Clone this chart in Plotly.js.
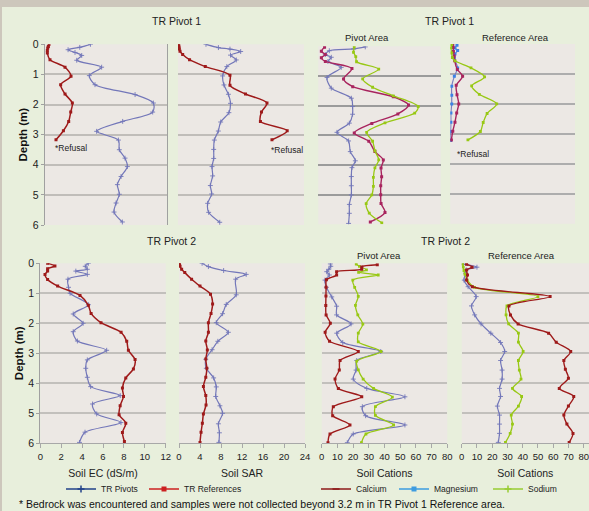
<!DOCTYPE html>
<html>
<head>
<meta charset="utf-8">
<script src="https://cdn.plot.ly/plotly-3.0.1.min.js"></script>
<style>
html,body{margin:0;padding:0;background:#e8efdc;}
#wrap{position:relative;width:589px;height:511px;overflow:hidden;}
#chart{position:absolute;left:0;top:0;width:589px;height:511px;}
#topband{position:absolute;left:0;top:0;width:589px;height:7px;background:#cdc7bc;z-index:5;}
#leftband{position:absolute;left:0;top:0;width:2px;height:511px;background:#cdc7bc;z-index:5;}
</style>
</head>
<body>
<div id="wrap"><div id="chart"></div><div id="topband"></div><div id="leftband"></div></div>
<script>
// ---------- DATA (depth in m) ----------
// TR Pivot 1 - Soil EC (dS/m)
const p1ecPivDepth = [0, 0.1, 0.18, 0.27, 0.37, 0.53, 0.76, 1.04, 1.34, 1.67, 1.95, 2.25, 2.56, 2.89, 3.18, 3.5, 3.78, 4.06, 4.39, 4.66, 4.98, 5.27, 5.57, 5.9];
const p1ecPiv      = [4.5, 3.45, 2.3, 2.98, 3.64, 3.15, 5.6, 4.39, 4.95, 8.89, 10.69, 10.62, 7.67, 5.11, 7.25, 7.34, 7.9, 8.13, 7.51, 7.15, 7.34, 7.02, 6.82, 7.64];
const p1ecRefDepth = [0, 0.07, 0.12, 0.21, 0.29, 0.51, 0.76, 1.06, 1.34, 1.65, 1.95, 2.25, 2.56, 2.87, 3.17];
const p1ecRef      = [0.43, 0.36, 0.3, 0.26, 0.26, 0.52, 2.0, 2.59, 1.57, 2.0, 2.72, 2.56, 2.36, 1.84, 1.11];
// TR Pivot 1 - Soil SAR
const p1sarPivDepth = [0, 0.11, 0.16, 0.24, 0.36, 0.52, 0.74, 1.05, 1.35, 1.66, 1.96, 2.27, 2.58, 2.88, 3.18, 3.49, 3.79, 4.06, 4.37, 4.69, 4.97, 5.28, 5.58, 5.91];
const p1sarPiv      = [5.33, 7.7, 9.9, 11.94, 10.0, 11.1, 9.3, 8.5, 8.76, 9.6, 10.0, 9.7, 8.13, 7.68, 6.92, 6.8, 6.8, 6.48, 6.6, 6.16, 6.41, 5.65, 5.84, 7.95];
const p1sarRefDepth = [0, 0.06, 0.1, 0.16, 0.23, 0.34, 0.51, 0.74, 1.03, 1.36, 1.65, 1.95, 2.25, 2.56, 2.87, 3.17];
const p1sarRef      = [0.13, 0.13, 0.19, 0.25, 0.38, 0.89, 2.2, 5.2, 9.9, 9.9, 12.85, 16.95, 15.9, 15.7, 20.8, 17.9];
// TR Pivot 1 - Cations, Pivot Area
const p1pvCaDepth = [0.03, 0.17, 0.28, 0.39, 0.51, 0.75, 1.1, 1.36, 1.7, 1.98, 2.28, 2.6, 2.92, 3.2, 3.55, 3.83, 4.1, 4.4, 4.7, 5.0, 5.3, 5.6, 5.92];
const p1pvCa      = [4.1, 2, 4.6, 2, 4.6, 22, 16.5, 22.5, 49, 59, 52, 35, 23.5, 33, 37, 42.5, 41, 41.4, 40.8, 40.8, 41, 43.6, 34];
const p1pvMgDepth = [0.02, 0.09, 0.15, 0.28, 0.37, 0.51, 0.71, 1.05, 1.41, 1.75, 2.03, 2.29, 2.59, 2.9, 3.19, 3.55, 3.86, 4.09, 4.39, 4.7, 5.01, 5.33, 5.63, 5.97];
const p1pvMg      = [30.7, 23.1, 7.2, 4.6, 8.5, 6.3, 15, 5.7, 8.5, 21.6, 22.4, 22.4, 20.3, 12.2, 19.8, 20.9, 24.2, 22, 21.6, 21.6, 21.6, 20.3, 20.3, 19.8];
const p1pvNaDepth = [0.03, 0.2, 0.35, 0.52, 0.77, 1.1, 1.38, 1.67, 2.03, 2.25, 2.58, 2.9, 3.2, 3.52, 3.83, 4.1, 4.42, 4.72, 5.01, 5.3, 5.62, 5.95];
const p1pvNa      = [23.5, 23, 24.5, 25, 39.5, 29, 35.5, 49, 65.3, 63, 43.6, 31.6, 35.5, 37, 39.5, 37, 36, 36, 35, 31.3, 33.3, 41.5];
// TR Pivot 1 - Cations, Reference Area
const p1rfCaDepth = [0.02, 0.12, 0.25, 0.4, 0.56, 0.85, 1.08, 1.38, 1.69, 2.0, 2.3, 2.61, 2.91, 3.2];
const p1rfCa      = [1.6, 1.8, 2, 2.5, 2.8, 4.5, 7.9, 3.8, 4.3, 5.4, 4.1, 3, 1.6, 0.7];
const p1rfMgDepth = [0.04, 0.13, 0.22, 0.33, 0.47, 0.8, 1.08, 1.41, 1.71, 2.0, 2.3, 2.61, 2.92, 3.22];
const p1rfMg      = [4.3, 3, 4.7, 3, 2.6, 4.7, 2.6, 0.9, 0.9, 0.9, 0.4, 0.4, 0.2, 0.2];
const p1rfNaDepth = [0.02, 0.13, 0.3, 0.45, 0.56, 0.8, 1.1, 1.4, 1.68, 2.0, 2.32, 2.62, 2.92, 3.2];
const p1rfNa      = [0.9, 0.4, 0.9, 1.3, 3, 13.3, 22, 13.7, 18.6, 29.8, 23.6, 21.1, 19.3, 11.3];
// TR Pivot 2 - Soil EC (dS/m)
const p2ecPivDepth = [0, 0.1, 0.2, 0.26, 0.37, 0.53, 0.8, 1.0, 1.38, 1.69, 2.0, 2.28, 2.59, 2.9, 3.22, 3.5, 3.8, 4.11, 4.41, 4.69, 5.02, 5.31, 5.63, 5.97];
const p2ecPiv      = [4.6, 4.3, 4.5, 3.4, 4.5, 2.65, 2.7, 2.85, 4.6, 3.15, 4.1, 3.15, 3.55, 6.35, 4.5, 4.35, 4.5, 4.82, 7.65, 5.0, 5.4, 7.72, 4.28, 3.75];
const p2ecRefDepth = [0, 0.09, 0.18, 0.26, 0.37, 0.54, 0.76, 1.07, 1.4, 1.67, 1.98, 2.3, 2.6, 2.9, 3.21, 3.52, 3.82, 4.16, 4.44, 4.75, 5.05, 5.33, 5.64, 5.94];
const p2ecRef      = [0.7, 1.4, 0.7, 0.7, 0.45, 0.7, 1.66, 3.8, 4.6, 4.86, 5.81, 7.73, 8.27, 8.43, 9.07, 8.91, 8.18, 7.86, 7.96, 7.64, 7.54, 8.18, 7.86, 8.05];
// TR Pivot 2 - Soil SAR
const p2sarPivDepth = [0, 0.11, 0.24, 0.37, 0.53, 1.05, 1.37, 1.68, 1.98, 2.3, 2.6, 2.88, 3.2, 3.5, 3.82, 4.12, 4.44, 4.75, 5.0, 5.35, 5.65, 5.97];
const p2sarPiv      = [4.4, 5.6, 8.5, 12.8, 10.8, 10.9, 9.0, 8.3, 7.1, 9.4, 7.4, 6.3, 5.1, 5.2, 6.6, 7.1, 7.0, 7.8, 8.3, 7.5, 7.7, 7.6];
const p2sarRefDepth = [0, 0.05, 0.1, 0.2, 0.31, 0.53, 0.76, 1.03, 1.36, 1.67, 1.98, 2.3, 2.59, 2.89, 3.19, 3.5, 3.8, 4.11, 4.41, 4.72, 5.02, 5.33, 5.63, 5.97];
const p2sarRef      = [0.05, 0.1, 0.2, 0.5, 1.1, 2.4, 4.0, 6.0, 6.4, 6.1, 5.6, 5.6, 5.1, 5.4, 5.1, 5.3, 5.1, 4.65, 5.1, 5.15, 4.65, 4.45, 4.2, 4.0];
// TR Pivot 2 - Cations, Pivot Area
const p2pvCaDepth = [0.05, 0.12, 0.2, 0.28, 0.39, 0.55, 0.8, 1.09, 1.41, 1.72, 2.0, 2.3, 2.6, 2.94, 3.24, 3.56, 3.86, 4.17, 4.45, 4.78, 5.08, 5.39, 5.69, 5.98];
const p2pvCa      = [35.4, 25.5, 25.5, 9.5, 9.5, 3, 2.8, 2.7, 2.6, 2.8, 5.5, 2.2, 5.0, 23.3, 11.7, 11.2, 8.5, 10.6, 25.5, 7.4, 7.0, 18, 5.3, 4.0];
const p2pvMgDepth = [0.02, 0.1, 0.2, 0.28, 0.39, 0.56, 0.8, 1.12, 1.43, 1.72, 2.02, 2.33, 2.64, 2.94, 3.24, 3.56, 3.86, 4.17, 4.45, 4.78, 5.08, 5.39, 5.69, 5.98];
const p2pvMg      = [5.5, 5.8, 4.5, 3.2, 4.9, 2.1, 3, 6.4, 9.5, 9.5, 18.7, 9.6, 13.4, 37.6, 22.3, 21.9, 20.1, 28.7, 53, 25.9, 28, 53, 20.1, 16.3];
const p2pvNaDepth = [0.03, 0.1, 0.22, 0.3, 0.39, 0.56, 0.8, 1.1, 1.4, 1.72, 2.03, 2.33, 2.62, 2.94, 3.26, 3.55, 3.86, 4.17, 4.46, 4.78, 5.07, 5.39, 5.69, 5.98];
const p2pvNa      = [22, 24, 28.5, 23.5, 36, 19.8, 21, 23.3, 21.5, 23, 26.2, 23.3, 23.3, 37.8, 22.3, 23.3, 26.4, 33, 45, 34.2, 34.2, 45.8, 28.2, 25.3];
// TR Pivot 2 - Cations, Reference Area
const p2rfCaDepth = [0.03, 0.13, 0.22, 0.39, 0.56, 0.78, 1.11, 1.42, 1.72, 2.02, 2.33, 2.63, 2.94, 3.24, 3.53, 3.83, 4.17, 4.44, 4.76, 5.06, 5.36, 5.67, 5.97];
const p2rfCa      = [3.2, 6.8, 3.2, 3.8, 3.2, 7.0, 58, 31, 32, 37, 57, 62, 71.5, 67, 68, 70, 64, 73.5, 70, 67, 69, 73, 70.5];
const p2rfMgDepth = [0.03, 0.13, 0.22, 0.33, 0.56, 0.78, 1.11, 1.42, 1.72, 2.02, 2.33, 2.64, 2.94, 3.24, 3.56, 3.86, 4.17, 4.44, 4.76, 5.06, 5.36, 5.67, 5.97];
const p2rfMg      = [1, 10, 3, 2.6, 1.5, 4.2, 9.5, 6.4, 8.5, 12.7, 19.1, 25.5, 28.2, 25.5, 26.5, 26.5, 24.8, 25.5, 23.4, 24.8, 24.8, 24.8, 24];
const p2rfNaDepth = [0.03, 0.13, 0.24, 0.36, 0.56, 0.8, 1.11, 1.42, 1.72, 2.02, 2.33, 2.63, 2.94, 3.24, 3.56, 3.86, 4.17, 4.44, 4.76, 5.06, 5.36, 5.67, 5.97];
const p2rfNa      = [0.6, 1, 1.5, 2.1, 3.6, 8.5, 50, 29.7, 29.1, 30.8, 37.2, 37.2, 40.3, 37.2, 37.8, 38.9, 33.3, 39.3, 37.2, 32.5, 33.3, 31.8, 28.7];

const depthTicks = [0, 1, 2, 3, 4, 5, 6];

// ---------- STYLE ----------
const W = 589, H = 511;
const FONT = '"Liberation Sans", Arial, sans-serif';
const C_PIV = '#7377b9', C_REF = '#9e1a1a', C_CA1 = '#a8245e', C_NA = '#98c814', C_MGB = '#3b82e6';
function dx(a, b) { return [a / W, b / W]; }
function dy(t, b) { return [1 - b / H, 1 - t / H]; }
function px(x) { return x / W; }
function py(y) { return 1 - y / H; }

function tr(x, y, n, color, sym, size, lw, mcolor) {
  const thin = sym.indexOf('thin') >= 0;
  return {
    type: 'scatter', mode: 'lines+markers', x: x, y: y,
    xaxis: 'x' + (n === 1 ? '' : n), yaxis: 'y' + (n === 1 ? '' : n),
    line: { color: color, width: lw, shape: 'spline', smoothing: 0.8 },
    marker: { symbol: sym, size: size, color: mcolor || color, line: { color: mcolor || color, width: thin ? 0.9 : 0 } },
    showlegend: false, hoverinfo: 'skip'
  };
}

const traces = [
  tr(p1ecPiv, p1ecPivDepth, 1, C_PIV, 'cross-thin', 3.5, 1.2),
  tr(p1ecRef, p1ecRefDepth, 1, C_REF, 'square', 3, 1.5),
  tr(p1sarPiv, p1sarPivDepth, 2, C_PIV, 'cross-thin', 3.5, 1.2),
  tr(p1sarRef, p1sarRefDepth, 2, C_REF, 'square', 3, 1.5),
  tr(p1pvMg, p1pvMgDepth, 3, C_PIV, 'cross-thin', 3.5, 1.2),
  tr(p1pvCa, p1pvCaDepth, 3, C_CA1, 'square', 3, 1.4),
  tr(p1pvNa, p1pvNaDepth, 3, C_NA, 'square', 2.8, 1.3),
  tr(p1rfMg, p1rfMgDepth, 4, '#7c80c0', 'square', 3, 1.2, C_MGB),
  tr(p1rfCa, p1rfCaDepth, 4, C_CA1, 'square', 3, 1.4),
  tr(p1rfNa, p1rfNaDepth, 4, C_NA, 'square', 2.8, 1.3),
  tr(p2ecPiv, p2ecPivDepth, 5, C_PIV, 'cross-thin', 3.5, 1.2),
  tr(p2ecRef, p2ecRefDepth, 5, C_REF, 'square', 3, 1.5),
  tr(p2sarPiv, p2sarPivDepth, 6, C_PIV, 'cross-thin', 3.5, 1.2),
  tr(p2sarRef, p2sarRefDepth, 6, C_REF, 'square', 3, 1.5),
  tr(p2pvMg, p2pvMgDepth, 7, C_PIV, 'cross-thin', 3.5, 1.2),
  tr(p2pvNa, p2pvNaDepth, 7, C_NA, 'square', 2.8, 1.3),
  tr(p2pvCa, p2pvCaDepth, 7, C_REF, 'square', 3, 1.4),
  tr(p2rfMg, p2rfMgDepth, 8, C_PIV, 'cross-thin', 3.5, 1.2),
  tr(p2rfNa, p2rfNaDepth, 8, C_NA, 'square', 2.8, 1.3),
  tr(p2rfCa, p2rfCaDepth, 8, C_REF, 'square', 3, 1.4)
];

// legend entries (one legend box per entry so that each can be placed like the reference)
const legendNames  = ['TR Pivots', 'TR References', 'Calcium', 'Magnesium', 'Sodium'];
const legendColors = ['#22428a', '#cc2020', '#8e1a1a', '#3d9ce0', '#99cc33'];
const legendSyms   = ['cross-thin', 'square', 'line-ew', 'square', 'cross-thin'];
const legendTextX  = [101, 184, 356, 434, 528];
legendNames.forEach(function (nm, i) {
  const thin = legendSyms[i].indexOf('thin') >= 0 || legendSyms[i].indexOf('line') === 0;
  traces.push({ type: 'scatter', mode: 'lines+markers', x: [null], y: [null], name: nm,
    legend: i === 0 ? 'legend' : 'legend' + (i + 1),
    line: { color: legendColors[i], width: 1.5 },
    marker: { symbol: legendSyms[i], size: 5, color: legendColors[i], line: { color: legendColors[i], width: thin ? 1.5 : 0 } },
    showlegend: true, hoverinfo: 'skip' });
});

function xax(dom, rng, bottom, dtick, title) {
  const a = { domain: dom, range: rng, autorange: false, showgrid: false, zeroline: false, fixedrange: true };
  if (bottom) {
    Object.assign(a, { showline: true, linecolor: '#a8a8a8', linewidth: 1, ticks: 'outside', ticklen: 4, tickcolor: '#a8a8a8',
      dtick: dtick, tick0: 0, showticklabels: true,
      tickfont: { size: 9.5, color: '#222', family: FONT },
      title: { text: title, font: { size: 10.5, color: '#222', family: FONT }, standoff: 8 } });
  } else {
    Object.assign(a, { showline: false, ticks: '', showticklabels: false });
  }
  return a;
}
function yax(dom, gc, gw, labels, mirror) {
  const a = { domain: dom, range: [6, 0], autorange: false, tickvals: depthTicks, showgrid: true, gridcolor: gc, gridwidth: gw,
    zeroline: false, fixedrange: true, showticklabels: false, ticks: '' };
  if (labels) {
    Object.assign(a, { showticklabels: true, ticks: 'outside', ticklen: 3, tickcolor: '#a0a0a0', showline: true, linecolor: '#a0a0a0',
      linewidth: 1, mirror: mirror, tickfont: { size: 10.5, color: '#222', family: FONT },
      title: { text: '<b>Depth (m)</b>', font: { size: 11.5, color: '#111', family: FONT }, standoff: 2 } });
  }
  return a;
}

const layout = {
  width: W, height: H, margin: { l: 0, r: 0, t: 0, b: 0 },
  paper_bgcolor: '#e8efdc', plot_bgcolor: '#ece8e4',
  font: { family: FONT, color: '#222' },
  xaxis:  Object.assign(xax(dx(44.7, 166.7), [0, 12], false), { anchor: 'y' }),
  yaxis:  Object.assign(yax(dy(44.3, 225), '#c0bdb9', 2, true, true), { anchor: 'x' }),
  xaxis2: Object.assign(xax(dx(178, 304), [0, 24], false), { anchor: 'y2' }),
  yaxis2: Object.assign(yax(dy(44.3, 225), '#c0bdb9', 2, false), { anchor: 'x2' }),
  xaxis3: Object.assign(xax(dx(318.3, 440.7), [0, 80], false), { anchor: 'y3' }),
  yaxis3: Object.assign(yax(dy(46.3, 224.3), '#9b9b9b', 2, false), { anchor: 'x3' }),
  xaxis4: Object.assign(xax(dx(450.3, 575), [0, 80], false), { anchor: 'y4' }),
  yaxis4: Object.assign(yax(dy(44, 223.8), '#adadad', 2, false), { anchor: 'x4' }),
  xaxis5: Object.assign(xax(dx(40.3, 165.7), [0, 12], true, 2, 'Soil EC (dS/m)'), { anchor: 'y5' }),
  yaxis5: Object.assign(yax(dy(263.3, 443.3), '#c2c0bc', 2, true, false), { anchor: 'x5' }),
  xaxis6: Object.assign(xax(dx(179, 305), [0, 24], true, 4, 'Soil SAR'), { anchor: 'y6' }),
  yaxis6: Object.assign(yax(dy(263.3, 443.3), '#c2c0bc', 2, false), { anchor: 'x6' }),
  xaxis7: Object.assign(xax(dx(321.7, 447.3), [0, 80], true, 10, 'Soil Cations'), { anchor: 'y7' }),
  yaxis7: Object.assign(yax(dy(263.3, 443.3), '#c2c0bc', 2, false), { anchor: 'x7' }),
  xaxis8: Object.assign(xax(dx(461.7, 589), [0, 83.5], true, 10, 'Soil Cations'), { anchor: 'y8' }),
  yaxis8: Object.assign(yax(dy(263.3, 443.3), '#c2c0bc', 2, false), { anchor: 'x8' }),
  annotations: [
    { text: 'TR Pivot 1', x: px(176), y: py(21), size: 10.5 },
    { text: 'TR Pivot 1', x: px(449), y: py(21), size: 10.5 },
    { text: 'Pivot Area', x: px(367.5), y: py(37.3), size: 9.5 },
    { text: 'Reference Area', x: px(515.3), y: py(37.3), size: 9.5 },
    { text: 'TR Pivot 2', x: px(171.3), y: py(240.7), size: 10.5 },
    { text: 'TR Pivot 2', x: px(445), y: py(240.7), size: 10.5 },
    { text: 'Pivot Area', x: px(379), y: py(255.7), size: 9.5 },
    { text: 'Reference Area', x: px(521), y: py(255.7), size: 9.5 },
    { text: '*Refusal', x: px(52.5), y: py(148), size: 8.5, xanchor: 'left' },
    { text: '*Refusal', x: px(268.5), y: py(149.7), size: 8.5, xanchor: 'left' },
    { text: '*Refusal', x: px(455), y: py(154), size: 8.5, xanchor: 'left' },
    { text: '* Bedrock was encountered and samples were not collected beyond 3.2 m in TR Pivot 1 Reference area.', x: px(17), y: py(504), size: 10.5, xanchor: 'left', color: '#111' }
  ].map(a => ({ text: a.text, x: a.x, y: a.y, xref: 'paper', yref: 'paper', showarrow: false,
               xanchor: a.xanchor || 'center', yanchor: 'middle',
               font: { size: a.size, color: a.color || '#222', family: FONT } }))
};
legendTextX.forEach(function (tx, i) {
  layout[i === 0 ? 'legend' : 'legend' + (i + 1)] = {
    orientation: 'h', x: px(tx - 40), y: py(489), xanchor: 'left', yanchor: 'middle', bgcolor: 'rgba(0,0,0,0)',
    font: { size: 8.5, color: '#222', family: FONT }, itemwidth: 30, itemclick: false, itemdoubleclick: false
  };
});

Plotly.newPlot('chart', traces, layout, { displayModeBar: false, responsive: false });
</script>
</body>
</html>
